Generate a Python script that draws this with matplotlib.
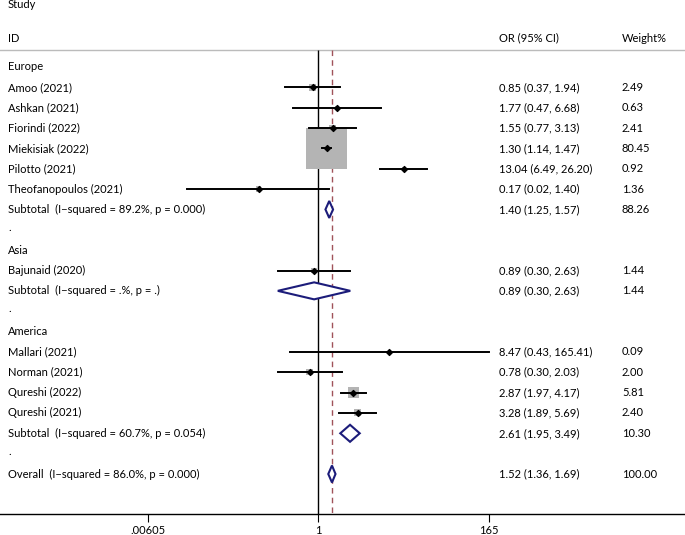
import matplotlib
matplotlib.use("Agg")
from matplotlib import pyplot as plt
from matplotlib.patches import Polygon
import numpy as np

plt.rcParams['font.family'] = ['Lato', 'DejaVu Sans']

# study level data
studies = ['Amoo (2021)', 'Ashkan (2021)', 'Fiorindi (2022)', 'Miekisiak (2022)',
           'Pilotto (2021)', 'Theofanopoulos (2021)',
           'Bajunaid (2020)',
           'Mallari (2021)', 'Norman (2021)', 'Qureshi (2022)', 'Qureshi (2021)']
study_or = [0.85, 1.77, 1.55, 1.30, 13.04, 0.17, 0.89, 8.47, 0.78, 2.87, 3.28]
study_lo = [0.37, 0.47, 0.77, 1.14, 6.49, 0.02, 0.30, 0.43, 0.30, 1.97, 1.89]
study_hi = [1.94, 6.68, 3.13, 1.47, 26.20, 1.40, 2.63, 165.41, 2.03, 4.17, 5.69]
study_wt = [2.49, 0.63, 2.41, 80.45, 0.92, 1.36, 1.44, 0.09, 2.00, 5.81, 2.40]
study_rows = [1, 2, 3, 4, 5, 6, 10, 14, 15, 16, 17]

# pooled estimates
pooled_labels = ['Subtotal  (I\u2212squared = 89.2%, p = 0.000)',
                 'Subtotal  (I\u2212squared = .%, p = .)',
                 'Subtotal  (I\u2212squared = 60.7%, p = 0.054)',
                 'Overall  (I\u2212squared = 86.0%, p = 0.000)']
pooled_or = [1.40, 0.89, 2.61, 1.52]
pooled_lo = [1.25, 0.30, 1.95, 1.36]
pooled_hi = [1.57, 2.63, 3.49, 1.69]
pooled_wt = [88.26, 1.44, 10.30, 100.00]
pooled_rows = [7, 11, 18, 20]

groups = ['Europe', 'Asia', 'America']
group_rows = [0, 9, 13]
dot_rows = [8, 12, 19]

tick_vals = [1 / 165, 1, 165]
tick_labels = ['.00605', '1', '165']

fig = plt.figure(figsize=(6.85, 5.35), dpi=100)
ax = fig.add_axes([0, 21 / 535, 1, 514 / 535])

step = 20.35
ax.set_ylim((514 - 67) / step, -67 / step)
ax.set_xscale('log')
dec = 170.5 / np.log10(165)
ax.set_xlim(10 ** (-318 / dec), 10 ** ((685 - 318) / dec))

for s in ['top', 'left', 'right']:
    ax.spines[s].set_visible(False)
ax.spines['bottom'].set_linewidth(1.0)
ax.set_yticks([])
ax.set_xticks(tick_vals)
ax.set_xticklabels(tick_labels)
ax.minorticks_off()
ax.tick_params(axis='x', length=6, width=0.8, labelsize=8, pad=2)

fs = 8
header_y = -17 / step
bottom_y = (514 - 67) / step
tr = ax.get_yaxis_transform()
ax.axhline(header_y, color='#bbbbbb', lw=1.0)
ax.text(8 / 685, -62 / step, 'Study', transform=tr, fontsize=fs, va='center')
ax.text(8 / 685, -29 / step, 'ID', transform=tr, fontsize=fs, va='center')
ax.text(499 / 685, -29 / step, 'OR (95% CI)', transform=tr, fontsize=fs, va='center')
ax.text(622 / 685, -29 / step, 'Weight%', transform=tr, fontsize=fs, va='center')

ax.vlines(1, header_y, bottom_y, color='black', lw=1.0)
ax.vlines(pooled_or[-1], header_y, bottom_y, color='#a0525a', lw=1.0, linestyles=(0, (4, 3)))

for g, r in zip(groups, group_rows):
    ax.text(8 / 685, r, g, transform=tr, fontsize=fs, va='center')
for r in dot_rows:
    ax.text(8 / 685, r - 0.12, '.', transform=tr, fontsize=fs, va='center')

# study boxes, CIs and points
ax.scatter(study_or, study_rows, s=[10.83 * w for w in study_wt], marker='s',
           color='#b4b4b4', edgecolors='none', zorder=2)
for name, o, lo, hi, w, r in zip(studies, study_or, study_lo, study_hi, study_wt, study_rows):
    ax.plot([lo, hi], [r, r], color='black', lw=1.4, zorder=3)
    ax.text(8 / 685, r, name, transform=tr, fontsize=fs, va='center')
    ax.text(499 / 685, r, f'{o:.2f} ({lo:.2f}, {hi:.2f})', transform=tr, fontsize=fs, va='center')
    ax.text(622 / 685, r, f'{w:.2f}', transform=tr, fontsize=fs, va='center')
ax.scatter(study_or, study_rows, s=9, marker='D', color='black', zorder=4)

# pooled diamonds
h = 8.5 / step
for lab, o, lo, hi, w, r in zip(pooled_labels, pooled_or, pooled_lo, pooled_hi, pooled_wt, pooled_rows):
    d = Polygon([(lo, r), (o, r - h), (hi, r), (o, r + h)], closed=True,
                facecolor='white', edgecolor='#1c1c7a', lw=1.5, zorder=5)
    ax.add_patch(d)
    ax.text(8 / 685, r, lab, transform=tr, fontsize=fs, va='center')
    ax.text(499 / 685, r, f'{o:.2f} ({lo:.2f}, {hi:.2f})', transform=tr, fontsize=fs, va='center')
    ax.text(622 / 685, r, f'{w:.2f}', transform=tr, fontsize=fs, va='center')

fig.savefig('out.png', dpi=100)
